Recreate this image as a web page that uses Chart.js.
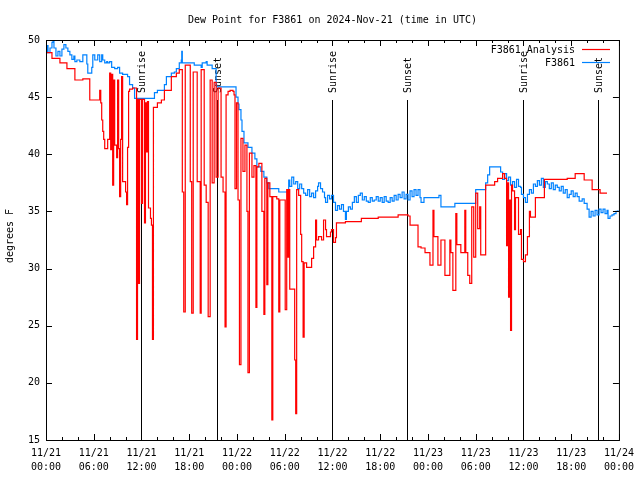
<!DOCTYPE html>
<html>
<head>
<meta charset="utf-8">
<script src="https://cdn.jsdelivr.net/npm/chart.js@4.4.1/dist/chart.umd.min.js"></script>
<style>
  body { margin: 0; background: #fff; }
  canvas { display: block; }
</style>
</head>
<body>
<canvas id="dewChart" width="640" height="480"></canvas>
<script>
// hours since 11/21 00:00 UTC
const stationHours = [0,0.13,0.25,0.5,0.75,0.88,1.0,1.25,1.5,1.75,2.0,2.25,2.5,2.75,3.0,3.25,3.5,3.63,3.88,4.25,4.63,5.13,5.25,5.75,5.88,6.13,6.5,6.75,7.0,7.13,7.38,7.63,7.75,8.0,8.25,8.63,9.0,9.25,9.63,10.25,10.5,10.88,11.13,13.63,14.0,14.88,15.13,15.75,16.13,16.38,16.75,17.0,17.06,17.13,18.63,19.5,19.63,20.13,20.25,20.88,21.38,21.44,23.88,24.13,24.25,24.5,24.63,24.88,25.38,25.88,26.25,26.5,27.0,27.38,27.75,28.0,29.25,30.5,30.63,30.88,31.13,31.38,31.63,31.88,32.13,32.38,32.63,32.88,33.13,33.38,33.63,33.88,34.13,34.25,34.5,34.75,35.0,35.13,35.38,35.63,35.88,36.13,36.38,36.63,36.88,37.13,37.38,37.63,37.75,38.0,38.25,38.5,38.75,39.0,39.25,39.5,39.75,40.0,40.25,40.5,40.75,41.0,41.25,41.5,41.75,42.0,42.25,42.5,42.75,43.0,43.25,43.5,43.75,44.0,44.25,44.5,44.75,45.0,45.25,45.5,45.75,46.0,46.25,46.5,46.75,47.0,47.13,47.5,49.38,49.63,51.38,54.0,55.25,55.5,55.75,57.13,57.38,57.63,57.88,58.13,58.38,58.63,58.88,59.13,59.38,59.63,59.75,60.0,60.25,60.5,60.75,61.0,61.25,61.5,61.75,62.0,62.25,62.5,62.75,63.0,63.25,63.5,63.75,64.0,64.25,64.5,64.75,65.0,65.25,65.5,65.75,66.0,66.25,66.5,66.75,67.0,67.38,67.63,68.0,68.25,68.5,68.75,69.0,69.25,69.5,69.75,70.0,70.25,70.5,70.63,70.88,71.13,71.38,71.63,71.88];
const stationDew = [48.9,49.5,48.9,49.3,49.8,50.0,49.3,48.6,49.0,48.6,49.2,49.6,49.3,49.0,48.7,48.3,48.6,48.1,48.25,48.1,48.7,47.9,47.1,47.6,48.7,48.25,48.7,48.1,48.7,48.25,48.0,48.1,48.0,48.1,47.6,47.5,47.6,47.1,47.0,46.8,46.1,45.8,44.9,45.4,45.6,46.1,46.8,47.1,47.2,47.5,48.0,48.25,49.0,48.0,47.8,47.6,48.0,48.1,47.8,47.5,46.1,45.9,45.0,44.4,43.9,43.0,42.0,41.0,40.6,40.1,39.6,38.9,38.5,38.0,37.5,37.0,36.7,37.75,37.2,38.0,37.4,37.6,37.0,37.4,37.0,36.6,36.4,36.9,36.3,36.6,36.2,36.8,37.2,37.5,37.0,36.7,36.2,35.8,36.4,36.1,36.4,35.8,35.1,35.5,35.2,35.6,35.0,34.3,35.0,35.4,35.2,35.8,36.3,35.8,36.4,36.6,36.0,36.3,35.9,35.8,36.2,35.9,36.0,36.3,35.9,36.2,35.8,36.3,35.9,35.8,36.2,35.9,36.4,36.0,36.5,36.2,36.7,36.1,36.5,36.0,36.8,36.3,36.9,36.4,36.9,36.2,35.8,36.2,36.4,35.4,35.7,36.9,37.5,38.2,38.9,38.45,37.8,38.3,37.7,38.0,37.3,37.6,37.1,37.8,37.2,37.1,36.5,36.2,35.8,36.5,36.9,36.6,37.4,37.2,37.7,37.3,37.9,37.1,37.6,37.4,37.0,37.5,36.9,37.3,37.1,36.8,37.2,36.6,36.9,36.2,36.5,36.8,36.3,36.6,36.3,35.9,36.1,35.7,35.2,34.5,35.0,34.6,35.1,34.7,35.2,34.9,35.2,34.8,35.1,34.4,34.6,34.7,34.8,35.0,35.1];

const analysisHours = [0,0.75,1.75,2.63,3.63,4.63,5.5,6.75,6.88,7.0,7.13,7.25,7.38,7.75,8.0,8.13,8.25,8.38,8.5,8.63,8.88,9.0,9.13,9.25,9.38,9.5,9.63,10.0,10.13,10.25,10.38,10.5,10.88,11.38,11.5,11.63,11.75,12.0,12.13,12.38,12.5,12.63,12.75,12.88,13.13,13.25,13.38,13.5,14.0,14.5,14.88,15.75,16.38,16.75,17.13,17.31,17.5,18.13,18.31,18.5,19.0,19.38,19.5,19.88,20.13,20.38,20.63,20.88,21.13,21.38,21.63,22.0,22.25,22.5,22.63,22.88,23.13,23.5,23.63,23.75,23.94,24.13,24.31,24.5,24.75,25.0,25.25,25.38,25.56,25.88,26.13,26.38,26.5,26.75,27.13,27.38,27.5,27.75,27.88,28.13,28.38,28.5,29.0,29.25,29.38,30.06,30.25,30.38,30.5,30.63,31.25,31.38,31.5,31.75,32.0,32.13,32.31,32.44,32.75,33.38,33.63,33.88,34.0,34.25,34.63,34.88,35.13,35.25,35.75,35.88,36.13,36.38,36.5,37.63,39.63,41.75,44.25,45.5,45.75,46.75,47.13,47.63,48.25,48.63,48.75,49.25,49.63,50.13,50.75,50.88,51.13,51.5,51.63,52.13,52.63,52.75,53.0,53.25,53.5,53.75,54.0,54.25,54.5,54.63,55.25,56.38,56.75,57.38,57.63,57.88,58.0,58.13,58.25,58.38,58.5,58.63,58.88,59.0,59.38,59.63,59.75,60.0,60.25,60.5,60.75,60.88,61.5,62.63,65.5,66.5,67.63,68.63,69.63,70.5];
const analysisDew = [48.9,48.4,48.0,47.5,46.5,46.6,44.75,45.6,44.5,43.0,42.0,41.3,40.5,41.3,47.1,40.4,47.0,37.3,46.5,40.8,39.7,46.5,40.5,36.3,41.3,46.8,37.6,36.7,35.6,40.6,45.5,45.7,45.8,23.8,44.8,28.7,44.8,35.7,44.8,34.0,44.5,40.2,44.6,35.3,34.4,33.8,23.8,44.1,44.5,44.75,45.6,46.8,47.1,47.4,36.7,26.2,47.8,37.6,26.1,47.2,37.6,26.1,47.4,37.3,35.8,25.8,46.5,37.5,46.3,38.0,45.8,38.0,36.7,24.9,45.2,45.5,45.6,45.5,45.2,37.0,44.5,36.0,21.6,41.4,38.5,40.8,35.0,20.9,40.1,38.0,39.0,26.6,38.9,39.2,35.0,26.0,37.9,28.6,37.5,36.3,16.75,36.3,36.1,26.2,36.0,26.4,36.9,31.0,36.9,28.2,22.0,17.3,36.9,36.4,33.0,30.6,24.0,30.5,30.1,30.9,31.9,34.25,32.5,32.8,32.5,34.25,33.4,32.8,33.2,33.4,32.3,32.7,34.0,34.1,34.4,34.5,34.7,34.6,33.8,31.9,31.8,31.4,30.3,35.1,32.8,30.3,32.5,29.4,32.5,31.4,28.1,34.8,32.1,31.4,35.1,31.4,29.4,28.7,35.4,31.0,36.6,33.5,35.4,31.2,37.3,37.6,37.9,38.3,37.9,32.0,37.5,27.5,36.0,24.6,37.3,36.8,33.4,36.2,33.0,33.4,30.8,30.6,31.2,32.8,35.0,34.5,36.2,37.8,37.9,38.3,37.75,36.9,36.6,36.6];

const sunHours = [11.9, 21.5, 35.9, 45.4, 59.9, 69.4];
const sunLabels = ['Sunrise','Sunset','Sunrise','Sunset','Sunrise','Sunset'];
const sunLineTop = 44.75;

const dayLabels = ['11/21','11/22','11/23','11/24'];
const hourLabels = ['00:00','06:00','12:00','18:00'];
const yTicks = [15,20,25,30,35,40,45,50];

const FONT = '"DejaVu Sans Mono", monospace';

function toPoints(xs, ys) {
    return xs.map((h, i) => ({x: h, y: ys[i]}));
}

const decor = {
    id: 'decor',
    beforeDatasetsDraw(chart) {
        const {ctx, scales: {x, y}} = chart;
        ctx.save();
        ctx.strokeStyle = '#000';
        ctx.lineWidth = 1;
        ctx.fillStyle = '#000';
        ctx.font = '10px ' + FONT;
        sunHours.forEach((h, i) => {
            const px = Math.round(x.getPixelForValue(h)) + 0.5;
            ctx.beginPath();
            ctx.moveTo(px, y.getPixelForValue(sunLineTop));
            ctx.lineTo(px, y.getPixelForValue(y.min));
            ctx.stroke();
            ctx.save();
            ctx.translate(px + 1, y.getPixelForValue(sunLineTop) - 7);
            ctx.rotate(-Math.PI / 2);
            ctx.textAlign = 'left';
            ctx.textBaseline = 'middle';
            ctx.fillText(sunLabels[i], 0, 0);
            ctx.restore();
        });
        ctx.restore();
    },
    afterDraw(chart) {
        const {ctx, chartArea: a, scales: {x, y}} = chart;
        ctx.save();
        ctx.strokeStyle = '#000';
        ctx.lineWidth = 1;
        ctx.strokeRect(a.left + 0.5, a.top + 0.5, a.right - a.left, a.bottom - a.top);
        ctx.beginPath();
        x.ticks.forEach(t => {
            const px = Math.round(x.getPixelForValue(t.value)) + 0.5;
            const len = t.value % 6 === 0 ? 6 : 3;
            ctx.moveTo(px, a.bottom); ctx.lineTo(px, a.bottom - len);
            ctx.moveTo(px, a.top); ctx.lineTo(px, a.top + len);
        });
        y.ticks.forEach(t => {
            const py = Math.round(y.getPixelForValue(t.value)) + 0.5;
            ctx.moveTo(a.left, py); ctx.lineTo(a.left + 6, py);
            ctx.moveTo(a.right, py); ctx.lineTo(a.right - 6, py);
        });
        ctx.stroke();

        ctx.fillStyle = '#000';
        ctx.font = '10px ' + FONT;
        ctx.textAlign = 'center';
        ctx.textBaseline = 'middle';
        ctx.fillText('Dew Point for F3861 on 2024-Nov-21 (time in UTC)', (a.left + a.right) / 2, 20);

        ctx.save();
        ctx.translate(10, 236);
        ctx.rotate(-Math.PI / 2);
        ctx.fillText('degrees F', 0, 0);
        ctx.restore();

        // legend
        const items = [['F3861 Analysis', '#ff0000', 50], ['F3861', '#0082ff', 63]];
        ctx.textAlign = 'right';
        items.forEach(([label, color, ly]) => {
            ctx.fillStyle = '#000';
            ctx.fillText(label, 575, ly);
            ctx.strokeStyle = color;
            ctx.lineWidth = 1.2;
            ctx.beginPath();
            ctx.moveTo(582, ly - 0.5);
            ctx.lineTo(610, ly - 0.5);
            ctx.stroke();
        });
        ctx.restore();
    }
};

new Chart(document.getElementById('dewChart'), {
    type: 'line',
    data: {
        datasets: [
            {
                label: 'F3861 Analysis',
                data: toPoints(analysisHours, analysisDew),
                borderColor: '#ff0000',
                borderWidth: 1.2,
                stepped: true,
                pointRadius: 0,
                fill: false
            },
            {
                label: 'F3861',
                data: toPoints(stationHours, stationDew),
                borderColor: '#0082ff',
                borderWidth: 1.2,
                stepped: true,
                pointRadius: 0,
                fill: false
            }
        ]
    },
    options: {
        responsive: false,
        animation: false,
        layout: { padding: { top: 40, right: 19, left: 0, bottom: 0 } },
        plugins: { legend: { display: false }, tooltip: { enabled: false } },
        scales: {
            x: {
                type: 'linear',
                min: 0,
                max: 72,
                afterFit: s => { s.height = 40; },
                grid: { display: false, drawTicks: false },
                border: { display: false },
                ticks: {
                    stepSize: 2,
                    autoSkip: false,
                    maxRotation: 0,
                    padding: 6,
                    color: '#000',
                    font: { family: FONT, size: 10, lineHeight: 1.4 },
                    callback: v => v % 6 === 0 ? [dayLabels[Math.floor(v / 24)], hourLabels[(v % 24) / 6]] : ''
                }
            },
            y: {
                min: yTicks[0],
                max: yTicks[yTicks.length - 1],
                afterFit: s => { s.width = 46; },
                afterBuildTicks: s => { s.ticks = yTicks.map(v => ({value: v})); },
                grid: { display: false, drawTicks: false },
                border: { display: false },
                ticks: {
                    padding: 6,
                    color: '#000',
                    font: { family: FONT, size: 10 }
                }
            }
        }
    },
    plugins: [decor]
});
</script>
</body>
</html>
